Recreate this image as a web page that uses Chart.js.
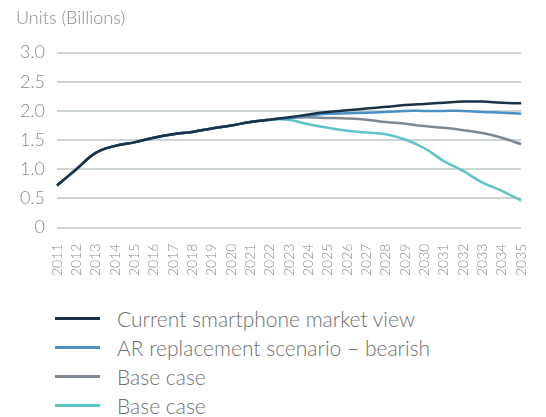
<!DOCTYPE html>
<html>
<head>
<meta charset="utf-8">
<script src="https://cdn.jsdelivr.net/npm/chart.js@4"></script>
<style>
  body { margin: 0; background: #fff; font-family: Lato, "Open Sans", sans-serif; overflow: hidden; }
  #wrap { position: relative; width: 546px; height: 284px; }
  #legend { position: absolute; left: 55px; top: 304px; }
  .item { height: 29px; display: flex; align-items: center; color: #707070; font-size: 21px; font-weight: 300; }
  .swatch { width: 45px; height: 3px; margin-right: 17px; }
</style>
</head>
<body>
<div id="wrap"><canvas id="myChart"></canvas></div>
<div id="legend"></div>
<script>
// años 2011-2035
var years = ['2011','2012','2013','2014','2015','2016','2017','2018','2019','2020','2021','2022','2023',
             '2024','2025','2026','2027','2028','2029','2030','2031','2032','2033','2034','2035'];

var currentView = [0.72, 1.00, 1.28, 1.40, 1.46, 1.54, 1.60, 1.64, 1.70, 1.75, 1.81, 1.85, 1.89,
                   1.94, 1.98, 2.01, 2.04, 2.07, 2.10, 2.12, 2.14, 2.16, 2.16, 2.14, 2.13];
var arBearish   = [0.72, 1.00, 1.28, 1.40, 1.46, 1.54, 1.60, 1.64, 1.70, 1.75, 1.81, 1.85, 1.88,
                   1.92, 1.95, 1.96, 1.97, 1.98, 2.00, 2.00, 2.00, 2.00, 1.98, 1.97, 1.95];
var baseCase    = [0.72, 1.00, 1.28, 1.40, 1.46, 1.54, 1.60, 1.64, 1.70, 1.75, 1.81, 1.85, 1.88,
                   1.89, 1.88, 1.87, 1.85, 1.81, 1.78, 1.74, 1.71, 1.67, 1.62, 1.54, 1.43];
var baseCase2   = [0.72, 1.00, 1.28, 1.40, 1.46, 1.54, 1.60, 1.64, 1.70, 1.75, 1.81, 1.85, 1.85,
                   1.77, 1.71, 1.66, 1.63, 1.60, 1.51, 1.36, 1.14, 0.97, 0.77, 0.63, 0.46];

var yTicks = [0, 0.5, 1.0, 1.5, 2.0, 2.5, 3.0];

var series = [
  { label: 'Current smartphone market view', data: currentView, color: '#1c3048' },
  { label: 'AR replacement scenario – bearish', data: arBearish, color: '#4d90c4' },
  { label: 'Base case', data: baseCase, color: '#7d8893' },
  { label: 'Base case', data: baseCase2, color: '#5fc4c6' }
];

var ctx = document.getElementById('myChart').getContext('2d');
var chart = new Chart(ctx, {
  type: 'line',
  data: {
    labels: years,
    datasets: series.map(function (s) {
      return { label: s.label, data: s.data, borderColor: s.color, borderWidth: 2.5,
               pointRadius: 0, tension: 0.4, fill: false };
    })
  },
  options: {
    responsive: true,
    maintainAspectRatio: false,
    animation: false,
    layout: { padding: { left: 16, right: 0, top: 0, bottom: 0 } },
    plugins: {
      legend: { display: false },
      tooltip: { enabled: false },
      title: {
        display: true, text: 'Units (Billions)', align: 'start', color: '#8a8a8a',
        font: { family: 'Lato', size: 18, weight: 300 },
        padding: { top: 7, bottom: 24 }
      }
    },
    scales: {
      x: {
        offset: false,
        grid: { display: false },
        border: { display: false },
        ticks: { color: '#8c8c8c', font: { family: 'Lato', size: 14, weight: 300 },
                 minRotation: 90, maxRotation: 90, autoSkip: false, padding: 8 }
      },
      y: {
        min: 0, max: 3,
        afterBuildTicks: function (axis) { axis.ticks = yTicks.map(function (v) { return { value: v }; }); },
        afterFit: function (axis) { axis.width = 41; },
        grid: { color: '#cdd5d9', lineWidth: 2, drawTicks: false },
        border: { display: false },
        ticks: { color: '#8a8a8a', font: { family: 'Lato', size: 18, weight: 300 }, padding: 12,
                 callback: function (v) { return v === 0 ? '0' : v.toFixed(1); } }
      }
    }
  }
});

// leyenda a mano, una fila por serie
var legend = document.getElementById('legend');
series.forEach(function (s) {
  var row = document.createElement('div');
  row.className = 'item';
  var sw = document.createElement('span');
  sw.className = 'swatch';
  sw.style.background = s.color;
  row.appendChild(sw);
  row.appendChild(document.createTextNode(s.label));
  legend.appendChild(row);
});
</script>
</body>
</html>
